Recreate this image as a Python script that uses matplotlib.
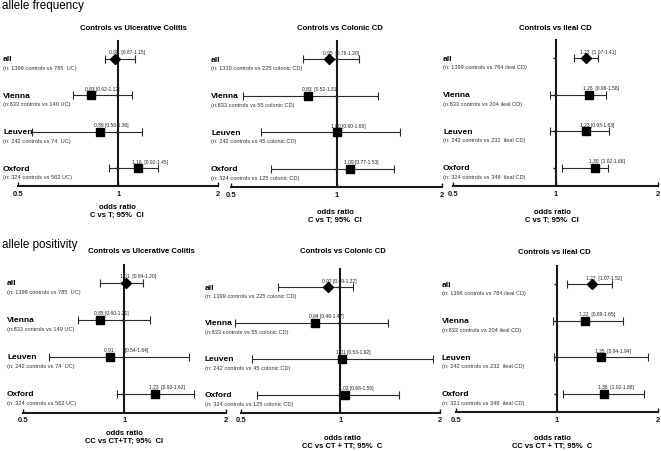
import matplotlib
matplotlib.use("Agg")
import matplotlib.pyplot as plt
from matplotlib import transforms
from matplotlib.transforms import offset_copy

plt.rcParams['font.family'] = ['Liberation Sans', 'DejaVu Sans']

# ---------------- data ----------------
rows = ["all", "Vienna", "Leuven", "Oxford"]
section_titles = ["allele frequency", "allele positivity"]
panel_titles = ["Controls vs Ulcerative Colitis", "Controls vs Colonic CD", "Controls vs Ileal CD"]
xticks = [0.5, 1, 2]
xtick_labels = ["0.5", "1", "2"]
xlabels_freq = ["odds ratio\nC vs T; 95%  CI"] * 3
xlabels_pos = ["odds ratio\nCC vs CT+TT; 95%  CI", "odds ratio\nCC vs CT + TT; 95%  C", "odds ratio\nCC vs CT + TT; 95%  C"]

# allele frequency
uc_freq_est = [0.98, 0.83, 0.88, 1.15]
uc_freq_lo = [0.91, 0.73, 0.55, 0.94]
uc_freq_hi = [1.12, 1.10, 1.18, 1.32]
uc_freq_txt = ["0.98  [0.87-1.15]", "0.83 [0.62-1.12]", "0.89 [0.58-1.36]", "1.16  [0.92-1.45]"]
uc_freq_n = ["(n: 1399 controls vs 785  UC)", "(n:833 controls vs 149 UC)",
             "(n: 242 controls vs 74  UC)", "(n: 324 controls vs 562 UC)"]

col_freq_est = [0.95, 0.83, 1.00, 1.09]
col_freq_lo = [0.80, 0.54, 0.61, 0.65]
col_freq_hi = [1.16, 1.31, 1.52, 1.46]
col_freq_txt = ["0.95  [0.78-1.20]", "0.83  [0.52-1.31]", "1.00 [0.60-1.66]", "1.09 [0.77-1.53]"]
col_freq_n = ["(n: 1339 controls vs 225 colonic CD)", "(n:833 controls vs 55 colonic CD)",
              "(n: 242 controls vs 45 colonic CD)", "(n: 324 controls vs 125 colonic CD)"]

il_freq_est = [1.23, 1.25, 1.23, 1.30]
il_freq_lo = [1.13, 0.96, 0.96, 1.04]
il_freq_hi = [1.33, 1.40, 1.43, 1.42]
il_freq_txt = ["1.23  [1.07-1.41]", "1.26  [0.96-1.58]", "1.23 [0.93-1.63]", "1.30  [1.02-1.66]"]
il_freq_n = ["(n: 1399 controls vs 784 ileal CD)", "(n:833 controls vs 204 ileal CD)",
             "(n: 242 controls vs 232  ileal CD)", "(n: 324 controls vs 348  ileal CD)"]

# allele positivity
uc_pos_est = [1.01, 0.85, 0.91, 1.23]
uc_pos_lo = [0.85, 0.73, 0.60, 0.95]
uc_pos_hi = [1.14, 1.19, 1.56, 1.61]
uc_pos_txt = ["1.01  [0.84-1.20]", "0.85 [0.60-1.21]", "0.91        [0.54-1.64]", "1.23  [0.93-1.62]"]
uc_pos_n = ["(n: 1399 controls vs 785  UC)", "(n:833 controls vs 149 UC)",
            "(n: 242 controls vs 74  UC)", "(n: 324 controls vs 562 UC)"]

col_pos_est = [0.92, 0.84, 1.01, 1.03]
col_pos_lo = [0.65, 0.48, 0.54, 0.56]
col_pos_hi = [1.09, 1.39, 1.91, 1.50]
col_pos_txt = ["0.92 [0.69-1.22]", "0.84 [0.48-1.47]", "1.01 [0.53-1.92]", "1.03 [0.68-1.56]"]
col_pos_n = ["(n: 1399 controls vs 225 colonic CD)", "(n:833 controls vs 55 colonic CD)",
             "(n: 242 controls vs 45 colonic CD)", "(n: 324 controls vs 125 colonic CD)"]

il_pos_est = [1.27, 1.21, 1.35, 1.38]
il_pos_lo = [1.07, 0.97, 0.98, 1.04]
il_pos_hi = [1.46, 1.57, 1.87, 1.81]
il_pos_txt = ["1.27  [1.07-1.52]", "1.22  [0.89-1.65]", "1.35  [0.94-1.94]", "1.38  [1.02-1.88]"]
il_pos_n = ["(n: 1396 controls vs 784 ileal CD)", "(n:833 controls vs 204 ileal CD)",
            "(n: 242 controls vs 232  ileal CD)", "(n: 321 controls vs 348  ileal CD)"]

panels = [
    (uc_freq_est, uc_freq_lo, uc_freq_hi, uc_freq_txt, uc_freq_n, panel_titles[0], xlabels_freq[0]),
    (col_freq_est, col_freq_lo, col_freq_hi, col_freq_txt, col_freq_n, panel_titles[1], xlabels_freq[1]),
    (il_freq_est, il_freq_lo, il_freq_hi, il_freq_txt, il_freq_n, panel_titles[2], xlabels_freq[2]),
    (uc_pos_est, uc_pos_lo, uc_pos_hi, uc_pos_txt, uc_pos_n, panel_titles[0], xlabels_pos[0]),
    (col_pos_est, col_pos_lo, col_pos_hi, col_pos_txt, col_pos_n, panel_titles[1], xlabels_pos[1]),
    (il_pos_est, il_pos_lo, il_pos_hi, il_pos_txt, il_pos_n, panel_titles[2], xlabels_pos[2]),
]

# ---------------- layout (pixels) ----------------
W, H = 661, 452
fig = plt.figure(figsize=(W / 100, H / 100), dpi=100)

# left, right, top, bottom of axes; x of row labels; title (x,y); xlabel (x,y)
layout = [
    (18.3, 218.3, 41.8, 187.2, 3, (133, 29), (117, 211)),
    (231.0, 442.3, 41.7, 188.3, 211, (340, 29), (335, 216)),
    (453.3, 658.3, 40.7, 187.3, 443, (555, 29), (552, 216)),
    (22.7, 225.7, 265.5, 413.5, 7, (141, 252), (124, 437)),
    (240.7, 440.0, 270.0, 414.0, 205, (343, 252), (342, 442)),
    (455.7, 658.3, 266.7, 413.3, 442, (554, 253), (552, 442)),
]

PX = 0.72  # points per pixel at 100 dpi
ink = "#1a1a1a"

for (est, lo, hi, txt, ntxt, title, xlab), (l, r, t, b, lx, tpos, xlpos) in zip(panels, layout):
    ax = fig.add_axes([l / W, 1 - b / H, (r - l) / W, (b - t) / H])
    ax.set_xscale('log', base=2)
    ax.set_xlim(0.5, 2)
    ypos = [3, 2, 1, 0]
    ax.set_ylim(-0.5, 3.5)
    ax.patch.set_alpha(0)

    for sp in ['top', 'right']:
        ax.spines[sp].set_visible(False)
    ax.spines['left'].set_position(('data', 1))
    ax.spines['left'].set_linewidth(1.5)
    ax.spines['left'].set_color(ink)
    ax.spines['bottom'].set_linewidth(1.5)
    ax.spines['bottom'].set_color(ink)

    ax.set_xticks(xticks)
    ax.set_xticklabels(xtick_labels, fontsize=5.5, fontweight='bold')
    ax.xaxis.set_minor_locator(matplotlib.ticker.NullLocator())
    ax.tick_params(axis='x', direction='in', length=3, width=1, pad=2.5, colors=ink)
    ax.set_yticks(ypos)
    ax.set_yticklabels([])
    ax.tick_params(axis='y', direction='out', length=2.5, width=1, colors=ink)

    for i, y in enumerate(ypos):
        ax.errorbar([est[i]], [y], xerr=[[est[i] - lo[i]], [hi[i] - est[i]]], fmt='none',
                    ecolor='#2a2a2a', elinewidth=0.8, capsize=3.2, capthick=0.8,
                    clip_on=False, zorder=3)
        ax.plot([est[i]], [y], marker='D' if i == 0 else 's', ms=4.6 if i == 0 else 5.2,
                color='black', linestyle='none', clip_on=False, zorder=4)
        ax.text(est[i], y, txt[i], fontsize=3.5, ha='left', va='center', color='#222222',
                transform=offset_copy(ax.transData, fig=fig, x=-6 * PX, y=7 * PX, units='points'))

    blend = transforms.blended_transform_factory(fig.transFigure, ax.transData)
    for i, y in enumerate(ypos):
        ax.text(lx / W, y, rows[i], fontsize=6, fontweight='bold', ha='left', va='center',
                transform=offset_copy(blend, fig=fig, x=0, y=0, units='points'))
        ax.text(lx / W, y, ntxt[i], fontsize=4.1, ha='left', va='center', color='#333333',
                transform=offset_copy(blend, fig=fig, x=0, y=-8.5 * PX, units='points'))

    fig.text(tpos[0] / W, 1 - tpos[1] / H, title, fontsize=5.6, fontweight='bold',
             ha='center', va='center')
    fig.text(xlpos[0] / W, 1 - xlpos[1] / H, xlab, fontsize=5.5, fontweight='bold',
             ha='center', va='center', linespacing=1.15)

fig.text(2 / W, 1 - 6.5 / H, section_titles[0], fontsize=8.4, ha='left', va='center')
fig.text(2 / W, 1 - 245 / H, section_titles[1], fontsize=8.4, ha='left', va='center')

fig.savefig("out.png", dpi=100)
